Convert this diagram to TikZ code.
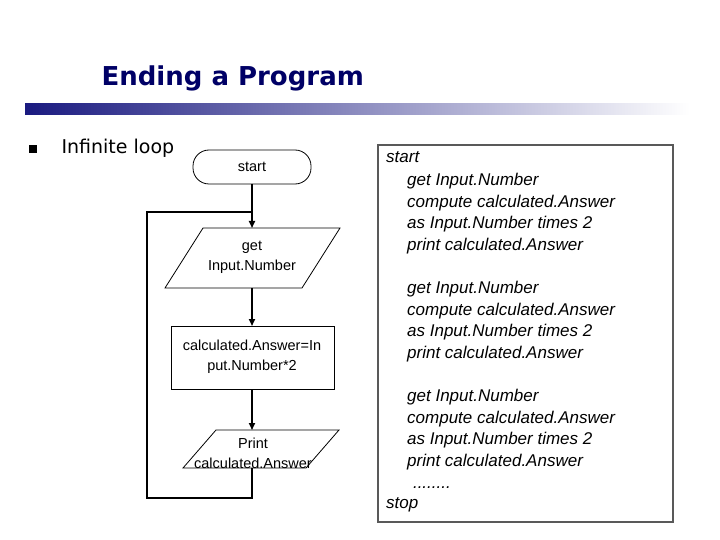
\documentclass[tikz,border=0pt]{standalone}
\usepackage{fontspec}
\setmainfont{Liberation Sans}
\newfontfamily\dejafont{DejaVu Sans}
\usetikzlibrary{arrows.meta}
\definecolor{navy}{HTML}{000066}
\definecolor{barblue}{HTML}{1A1A80}
\begin{document}
\begin{tikzpicture}[x=1pt,y=-1pt,
  shp/.style={draw=black,line width=0.8pt,fill=white},
  conn/.style={draw=black,line width=1.6pt},
  arr/.style={conn,-{Triangle[length=7pt,width=6pt]}},
  flow/.style={font=\fontsize{14.5}{20}\selectfont,align=center,inner sep=0pt},
  code/.style={font=\fontsize{17}{21.7}\selectfont\itshape,align=left,anchor=north west,inner sep=0pt}]
\useasboundingbox (0,0) rectangle (720,540);
\fill[white] (0,0) rectangle (720,540);
% title
\node[anchor=west,text=navy,font=\dejafont\bfseries\fontsize{26}{30}\selectfont] (title) at (98,78) {Ending a Program};
\shade[left color=barblue,right color=white] (25,104) rectangle (690,115);
% bullet
\fill[black] (29,145) rectangle (37,153);
\node[anchor=west,font=\dejafont\fontsize{19}{22}\selectfont] (bul) at (58,148) {Infinite loop};
% flowchart shapes
\draw[shp,rounded corners=16pt] (193,150) rectangle (311,184);
\node[flow] (start) at (252,167) {start};
\draw[shp] (203,228) -- (340,228) -- (302,288) -- (165,288) -- cycle;
\node[flow] (get) at (252,257) {get\\Input.Number};
\draw[shp] (171,326) rectangle (334,389);
\node[flow] (calc) at (252,357) {calculated.Answer=In\\put.Number*2};
\draw[shp] (216,430) -- (339,430) -- (306,468) -- (183,468) -- cycle;
\node[flow] (prt) at (253,453) {Print\\calculated.Answer};
\coordinate (sB) at (252,184);
\coordinate (gT) at (252,228);
\coordinate (gB) at (252,288);
\coordinate (cT) at (252,326);
\coordinate (cB) at (252,389);
\coordinate (pT) at (252,430);
\coordinate (pB) at (252,468);
\coordinate (lj) at (252,212);
\coordinate (lb) at (252,498);
\coordinate (lbl) at (147,498);
\coordinate (ltl) at (147,212);
\draw[arr] (sB) -- (gT);
\draw[arr] (gB) -- (cT);
\draw[arr] (cB) -- (pT);
\draw[conn] (pB) -- (lb) -- (lbl) -- (ltl) -- (lj);
% pseudocode box
\draw[draw=gray!70!black,line width=1.2pt] (378,145) rectangle (673,522);
\node[code] (c1) at (386,151) {start};
\node[code] (c2) at (407,173) {get Input.Number\\compute calculated.Answer\\as Input.Number times 2\\print calculated.Answer};
\node[code] (c3) at (407,281) {get Input.Number\\compute calculated.Answer\\as Input.Number times 2\\print calculated.Answer};
\node[code] (c4) at (407,389) {get Input.Number\\compute calculated.Answer\\as Input.Number times 2\\print calculated.Answer\\\hspace*{3pt}\,........};
\node[code] (c5) at (386,497) {stop};
\end{tikzpicture}
\end{document}
